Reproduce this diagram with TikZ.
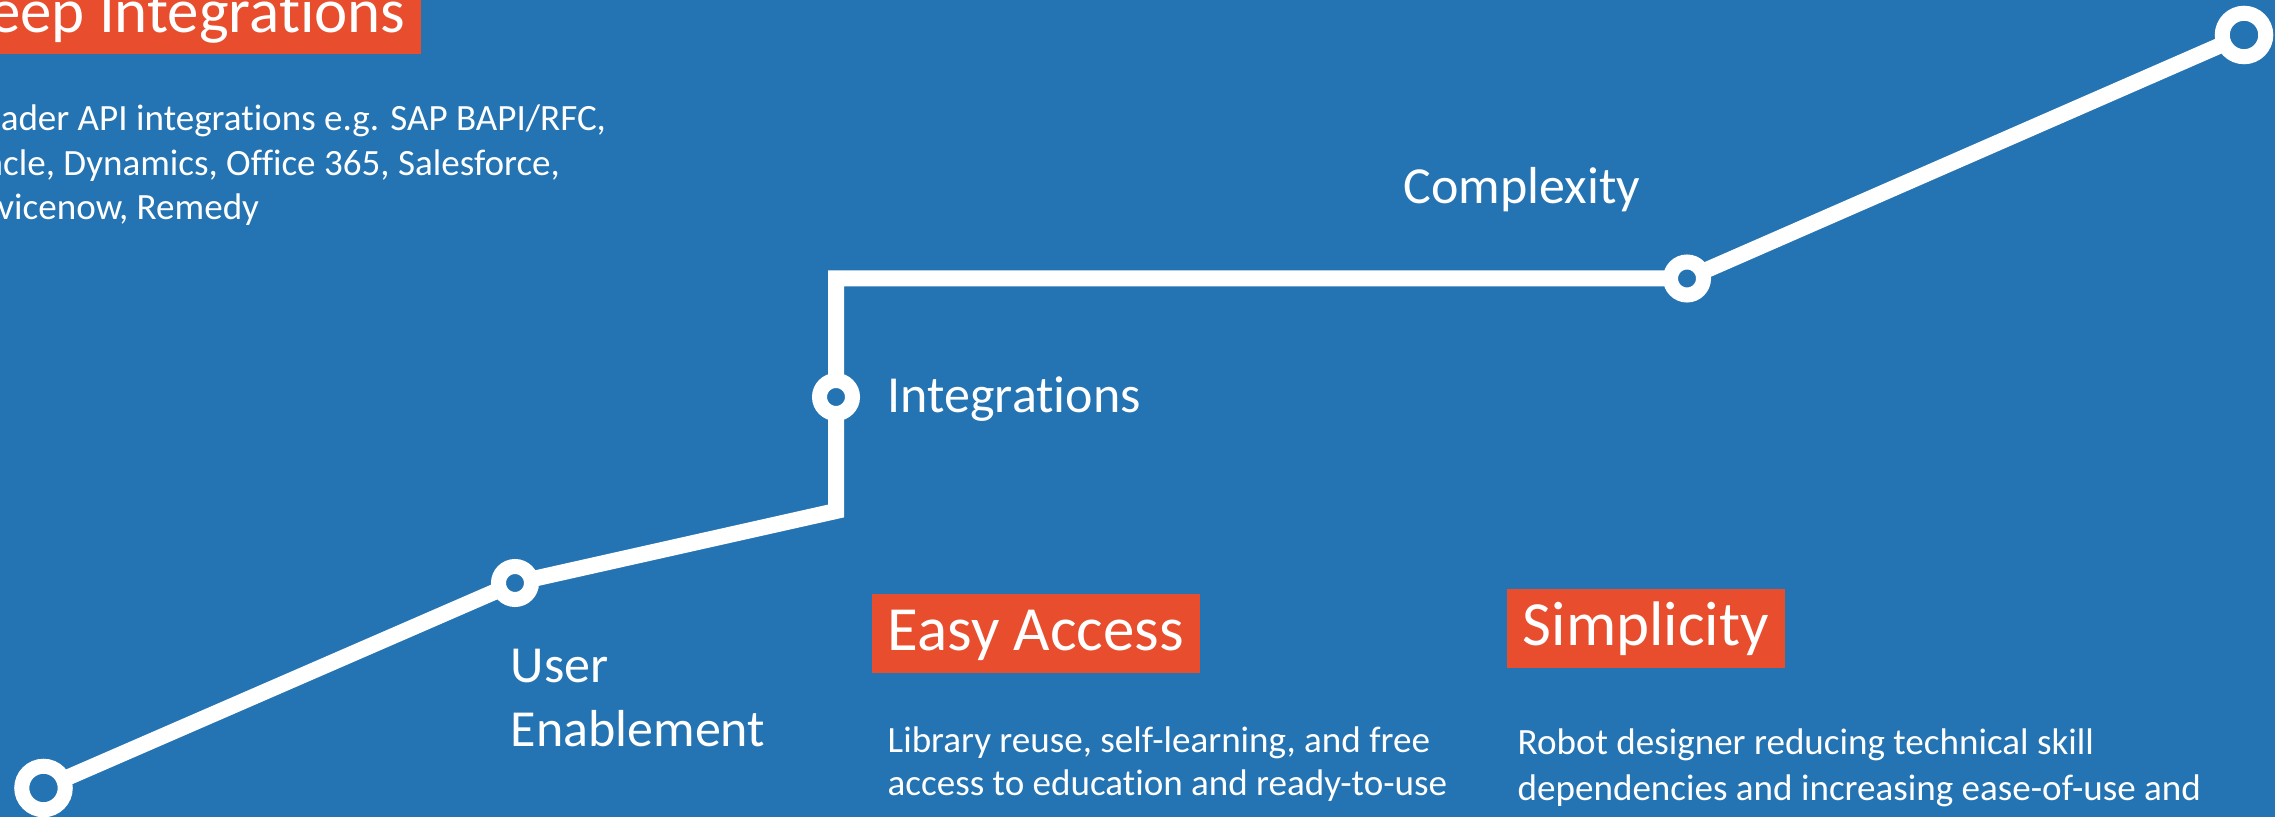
\documentclass[tikz,border=0pt]{standalone}
\usepackage{fontspec}
\setmainfont{Carlito}[Ligatures=NoCommon]
\usepackage{xcolor}
\definecolor{bgblue}{RGB}{36,115,178}
\definecolor{accent}{RGB}{232,78,46}
\pgfdeclarelayer{back}
\pgfsetlayers{back,main}

\begin{document}
\begin{tikzpicture}[
	ring/.style={circle, draw=white, fill=bgblue, line width=0.15cm, minimum size=0.33cm, inner sep=0pt},
	bigring/.style={ring, minimum size=0.435cm},
	track/.style={draw=white, line width=0.16cm},
	titlebox/.style={fill=accent, text=white, font=\fontsize{17.9}{21}\selectfont, inner xsep=0.16cm, inner ysep=0pt, text height=0.57cm, text depth=0.22cm},
	stagetext/.style={text=white, font=\fontsize{14.8}{18.2}\selectfont, align=left, anchor=base west, inner sep=0pt},
	bodytext/.style={text=white, font=\fontsize{10.55}{12.5}\selectfont, align=left, anchor=base west, inner sep=0pt}
	]
			\useasboundingbox (0,0) rectangle (22.75,8.17);
			\clip (0,0) rectangle (22.75,8.17);
			% milestones
			\node[bigring] (s0) at (0.435,0.29) {};
			\node[ring] (ue) at (5.15,2.34) {};
			\node[ring] (ig) at (8.36,4.20) {};
			\node[ring] (cx) at (16.87,5.385) {};
			\node[bigring] (top) at (22.44,7.82) {};
			\coordinate (k1) at (8.36,3.06);
			\coordinate (k2) at (8.36,5.385);
			\begin{pgfonlayer}{back}
				\fill[bgblue] (0,0) rectangle (22.75,8.17);
				\draw[track] (s0.center) -- (ue.center) -- (k1) -- (ig.center) -- (k2) -- (cx.center) -- (top.center);
			\end{pgfonlayer}
			% stage names (base = last line)
			\node[stagetext] (uelab) at (5.10,0.71) {User\\Enablement};
			\node[stagetext] (iglab) at (8.87,4.04) {Integrations};
			\node[stagetext] (cxlab) at (14.03,6.13) {Complexity};
			% boxes and notes
			\node[titlebox, anchor=south east] (deep) at (4.22,7.62) {Deep Integrations};
			\node[bodytext, font=\fontsize{10.55}{12.8}\selectfont] (deeptxt) at (-0.52,5.97) {Broader API integrations e.g. SAP BAPI/RFC,\\Oracle, Dynamics, Office 365, Salesforce,\\Servicenow, Remedy};
			\node[titlebox, anchor=north west] (easy) at (8.71,2.24) {Easy Access};
			\node[bodytext] (easytxt) at (8.87,0.21) {Library reuse, self-learning, and free\\access to education and ready-to-use};
			\node[titlebox, anchor=north west] (simple) at (15.06,2.29) {Simplicity};
			\node[bodytext, font=\fontsize{10.55}{13.2}\selectfont] (simpletxt) at (15.17,0.16) {Robot designer reducing technical skill\\dependencies and increasing ease-of-use and};
		\end{tikzpicture}
\end{document}
